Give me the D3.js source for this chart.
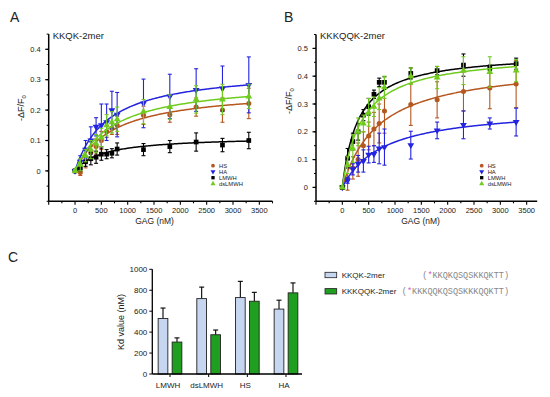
<!DOCTYPE html>
<html><head><meta charset="utf-8">
<script src="https://cdn.jsdelivr.net/npm/d3@7"></script>
<style>body{margin:0;background:#fff}svg{display:block;font-family:"Liberation Sans",Arial,sans-serif}</style>
</head><body>
<svg id="c" width="550" height="397"></svg>
<script>
// ---------- data ----------
const conc = [0,100,200,300,400,500,600,700,800,1300,1800,2300,2800,3300];
const gagNames = ["HS","HA","LMWH","dsLMWH"];

// Panel A (KKQK-2mer)
const A_HS      = [0,-0.005,0.03,0.06,0.08,0.10,0.13,0.14,0.15,0.183,0.185,0.21,0.20,0.222];
const A_HS_err  = [0.005,0.01,0.02,0.02,0.025,0.03,0.02,0.02,0.03,0.03,0.025,0.03,0.04,0.05];
const A_HA      = [0,0.03,0.07,0.10,0.145,0.15,0.16,0.20,0.185,0.222,0.245,0.266,0.271,0.283];
const A_HA_err  = [0.005,0.02,0.03,0.045,0.03,0.07,0.06,0.062,0.073,0.08,0.073,0.07,0.074,0.092];
const A_LMWH    = [0,0.01,0.03,0.04,0.045,0.055,0.055,0.058,0.072,0.07,0.08,0.095,0.085,0.10];
const A_LMWH_err= [0.005,0.01,0.015,0.02,0.02,0.02,0.015,0.015,0.02,0.02,0.02,0.03,0.022,0.027];
const A_DS      = [0,0.02,0.05,0.07,0.09,0.11,0.15,0.16,0.17,0.195,0.21,0.235,0.235,0.245];
const A_DS_err  = [0.005,0.02,0.02,0.03,0.03,0.03,0.035,0.035,0.04,0.04,0.04,0.045,0.05,0.04];
const A_Bmax    = [0.271,0.336,0.114,0.298]; // HS, HA, LMWH, dsLMWH

// Panel B (KKKQQK-2mer)
const B_HS      = [0,0.03,0.07,0.10,0.15,0.185,0.21,0.23,0.275,0.298,0.315,0.345,0.358,0.372];
const B_HS_err  = [0.005,0.04,0.04,0.06,0.05,0.05,0.06,0.07,0.08,0.075,0.065,0.07,0.075,0.085];
const B_HA      = [0,0.025,0.065,0.085,0.095,0.118,0.12,0.14,0.145,0.152,0.205,0.225,0.23,0.235];
const B_HA_err  = [0.005,0.01,0.02,0.03,0.04,0.03,0.03,0.055,0.065,0.05,0.03,0.05,0.02,0.05];
const B_LMWH    = [0,0.105,0.165,0.20,0.26,0.29,0.335,0.378,0.378,0.41,0.42,0.44,0.43,0.445];
const B_LMWH_err= [0.005,0.035,0.03,0.03,0.02,0.03,0.015,0.015,0.02,0.02,0.015,0.04,0.01,0.02];
const B_DS      = [0,0.08,0.14,0.20,0.23,0.27,0.29,0.32,0.36,0.40,0.395,0.42,0.415,0.42];
const B_DS_err  = [0.005,0.03,0.05,0.05,0.03,0.05,0.035,0.04,0.04,0.03,0.04,0.05,0.055,0.04];
const B_Bmax    = [0.45,0.29,0.486,0.484];

// Panel C (Kd values, nM)
const kdCats = ["LMWH","dsLMWH","HS","HA"];
const kd_KKQK      = [530,720,730,620];
const kd_KKQK_err  = [100,110,155,85];
const kd_KKKQQK    = [305,375,695,775];
const kd_KKKQQK_err= [40,45,85,95];
const kdSeriesNames = ["KKQK-2mer","KKKQQK-2mer"];
const kdSeq = ["KKQKQSQSKKQKTT","KKKQQKQSQSKKKQQKTT"];

const xTicks = [0,500,1000,1500,2000,2500,3000,3500];

// ---------- styles ----------
const colors = {HS:"#b5571f", HA:"#2323e0", LMWH:"#000000", dsLMWH:"#6fcc1e"};
const symbols = {HS:d3.symbolCircle, HA:d3.symbolTriangle, LMWH:d3.symbolSquare, dsLMWH:d3.symbolTriangle};
const svg = d3.select("#c");

function kdFor(panel, name){
  const i = kdCats.indexOf(name);
  return panel==="A" ? kd_KKQK[i] : kd_KKKQQK[i];
}

function drawPanel(opt){
  const g = svg.append("g");
  const x = d3.scaleLinear().domain(opt.xDom).range(opt.xRange);
  const y = d3.scaleLinear().domain(opt.yDom).range(opt.yRange);
  const yMajor = d3.range(0, opt.yDom[1]+1e-9, 0.1).map(v=>+v.toFixed(2));
  const yMinor = d3.range(opt.yDom[0], opt.yDom[1]+1e-9, 0.05).map(v=>+v.toFixed(3));
  const yAx = g.append("g").attr("transform",`translate(${opt.xRange[0]},0)`);
  yAx.append("line").attr("y1",opt.yRange[0]).attr("y2",opt.yRange[1]).attr("stroke","#000").attr("stroke-width",1.5);
  yAx.selectAll(".mn").data(yMinor).join("line").attr("x1",-2).attr("x2",0).attr("y1",d=>y(d)).attr("y2",d=>y(d)).attr("stroke","#000").attr("stroke-width",1);
  yAx.selectAll(".mj").data(yMajor).join("line").attr("x1",-3.5).attr("x2",0).attr("y1",d=>y(d)).attr("y2",d=>y(d)).attr("stroke","#000").attr("stroke-width",1.2);
  yAx.selectAll("text").data(yMajor).join("text").attr("x",-8).attr("y",d=>y(d)).attr("dy","0.35em")
     .attr("text-anchor","end").attr("font-size",7.5).attr("fill","#222").text(d=>d===0?"0":d3.format(".1f")(d));

  const xMinor = d3.range(opt.xDom[0], opt.xDom[1]+1, 250);
  const xAx = g.append("g").attr("transform",`translate(0,${opt.yRange[0]})`);
  xAx.append("line").attr("x1",opt.xRange[0]).attr("x2",opt.xRange[1]).attr("stroke","#000").attr("stroke-width",1.5);
  xAx.selectAll(".mn").data(xMinor).join("line").attr("x1",d=>x(d)).attr("x2",d=>x(d)).attr("y1",0).attr("y2",d=>d%500===0?3.5:2).attr("stroke","#000").attr("stroke-width",1.1);
  xAx.selectAll("text").data(xTicks).join("text").attr("x",d=>x(d)).attr("y",11.5).attr("text-anchor","middle")
     .attr("font-size",7.5).attr("fill","#222").text(d=>d);

  svg.append("text").attr("x",(opt.xRange[0]+opt.xRange[1])/2-6).attr("y",224).attr("text-anchor","middle").attr("font-size",8.5).attr("fill","#222").text("GAG (nM)");
  const yl = svg.append("text").attr("transform",`translate(${opt.yLabelX},${opt.yLabelY}) rotate(-90)`).attr("text-anchor","middle").attr("font-size",9).attr("fill","#222");
  yl.append("tspan").text("-ΔF/F");
  yl.append("tspan").attr("font-size",6).attr("dy",2).text("0");
  svg.append("text").attr("x",opt.xRange[0]+4).attr("y",39).attr("font-size",9.5).attr("fill","#222").text(opt.title);
  svg.append("text").attr("x",opt.letterX).attr("y",22).attr("font-size",14).attr("fill","#222").text(opt.letter);

  opt.series.forEach((s,si)=>{
    const col = colors[s.name];
    const kd = kdFor(opt.panel, s.name);
    const bmax = opt.bmax[si];
    const fx = d3.range(0, 3301, 25);
    const line = d3.line().x(d=>x(d)).y(d=>y(bmax*d/(kd+d))).curve(d3.curveMonotoneX);
    g.append("path").datum(fx).attr("d",line).attr("fill","none").attr("stroke",col).attr("stroke-width",1.5);
    const pts = conc.map((c,i)=>({c, v:s.vals[i], e:s.err[i]}));
    const eb = g.append("g").attr("stroke",col).attr("stroke-width",1.1);
    eb.selectAll(".v").data(pts).join("line").attr("x1",d=>x(d.c)).attr("x2",d=>x(d.c)).attr("y1",d=>y(d.v-d.e)).attr("y2",d=>y(d.v+d.e));
    eb.selectAll(".t").data(pts).join("line").attr("x1",d=>x(d.c)-2).attr("x2",d=>x(d.c)+2).attr("y1",d=>y(d.v+d.e)).attr("y2",d=>y(d.v+d.e));
    eb.selectAll(".b").data(pts).join("line").attr("x1",d=>x(d.c)-2).attr("x2",d=>x(d.c)+2).attr("y1",d=>y(d.v-d.e)).attr("y2",d=>y(d.v-d.e));
    const sym = d3.symbol().type(symbols[s.name]).size(s.name==="LMWH"?22:20);
    g.append("g").selectAll("path").data(pts).join("path")
      .attr("transform",d=>`translate(${x(d.c)},${y(d.v)})${s.name==="HA"?" rotate(180)":""}`)
      .attr("d",sym).attr("fill",col);
  });

  const lg = svg.append("g");
  gagNames.forEach((n,i)=>{
    const yy = opt.legY + i*6;
    lg.append("path").attr("transform",`translate(${opt.legX},${yy})${n==="HA"?" rotate(180)":""}`)
      .attr("d",d3.symbol().type(symbols[n]).size(11)).attr("fill",colors[n]);
    lg.append("text").attr("x",opt.legX+6).attr("y",yy).attr("dy","0.35em").attr("font-size",5.8).attr("fill","#222").text(n);
  });
}

drawPanel({panel:"A", letter:"A", letterX:10, title:"KKQK-2mer",
  xDom:[-500,3750], xRange:[48.7,272.5], yDom:[-0.1,0.45], yRange:[201.3,34.1],
  yLabelX:24, yLabelY:108, legX:213, legY:165.7, bmax:A_Bmax,
  series:[{name:"HS",vals:A_HS,err:A_HS_err},{name:"HA",vals:A_HA,err:A_HA_err},
          {name:"LMWH",vals:A_LMWH,err:A_LMWH_err},{name:"dsLMWH",vals:A_DS,err:A_DS_err}]});

drawPanel({panel:"B", letter:"B", letterX:284, title:"KKKQQK-2mer",
  xDom:[-500,3700], xRange:[316,537.2], yDom:[-0.05,0.55], yRange:[201.3,34.5],
  yLabelX:292, yLabelY:101, legX:481.7, legY:165.7, bmax:B_Bmax,
  series:[{name:"HS",vals:B_HS,err:B_HS_err},{name:"HA",vals:B_HA,err:B_HA_err},
          {name:"LMWH",vals:B_LMWH,err:B_LMWH_err},{name:"dsLMWH",vals:B_DS,err:B_DS_err}]});

// ---------- Panel C ----------
(function(){
  const g = svg.append("g");
  const x = d3.scalePoint().domain(kdCats).range([170,286]);
  const y = d3.scaleLinear().domain([0,1000]).range([374,269.3]);
  const bw = 9.7, off = 7;
  const barCols = ["#c6d5f0","#1f9e1f"];
  const vals = [kd_KKQK, kd_KKKQQK], errs = [kd_KKQK_err, kd_KKKQQK_err];
  vals.forEach((arr,si)=>{
    const d = kdCats.map((c,i)=>({c, v:arr[i], e:errs[si][i]}));
    const cx = c => x(c) + (si===0?-off:off);
    g.append("g").attr("stroke","#000").attr("stroke-width",1.1).selectAll("line.e").data(d).join("line")
      .attr("x1",q=>cx(q.c)).attr("x2",q=>cx(q.c)).attr("y1",q=>y(q.v)).attr("y2",q=>y(q.v+q.e));
    g.append("g").attr("stroke","#000").attr("stroke-width",1.1).selectAll("line.c").data(d).join("line")
      .attr("x1",q=>cx(q.c)-2.5).attr("x2",q=>cx(q.c)+2.5).attr("y1",q=>y(q.v+q.e)).attr("y2",q=>y(q.v+q.e));
    g.append("g").selectAll("rect").data(d).join("rect")
      .attr("x",q=>cx(q.c)-bw/2).attr("width",bw).attr("y",q=>y(q.v)).attr("height",q=>y(0)-y(q.v))
      .attr("fill",barCols[si]).attr("stroke","#222").attr("stroke-width",0.9);
  });
  const yAx = g.append("g").attr("transform","translate(152.3,0)");
  yAx.append("line").attr("y1",374).attr("y2",269.3).attr("stroke","#000").attr("stroke-width",1.3);
  const yt = d3.range(0,1001,200);
  yAx.selectAll(".t").data(yt).join("line").attr("x1",-3).attr("x2",0).attr("y1",d=>y(d)).attr("y2",d=>y(d)).attr("stroke","#000");
  yAx.selectAll("text").data(yt).join("text").attr("x",-5).attr("y",d=>y(d)).attr("dy","0.35em").attr("text-anchor","end").attr("font-size",8).attr("fill","#222").text(d=>d);
  const xAx = g.append("g").attr("transform","translate(0,374)");
  xAx.append("line").attr("x1",152.3).attr("x2",302).attr("stroke","#000").attr("stroke-width",1.3);
  xAx.selectAll(".t").data(kdCats).join("line").attr("x1",d=>x(d)).attr("x2",d=>x(d)).attr("y1",0).attr("y2",3).attr("stroke","#000");
  xAx.selectAll("text").data(kdCats).join("text").attr("x",d=>x(d)-2).attr("y",13.5).attr("text-anchor","middle").attr("font-size",8).attr("fill","#222").text(d=>d);
  svg.append("text").attr("transform","translate(124,322) rotate(-90)").attr("text-anchor","middle").attr("font-size",9).attr("fill","#222").text("Kd value (nM)");
  svg.append("text").attr("x",8).attr("y",262).attr("font-size",14).attr("fill","#222").text("C");
  kdSeriesNames.forEach((n,i)=>{
    const yy = 275 + i*16.3;
    svg.append("rect").attr("x",325).attr("y",yy-2.7).attr("width",11.7).attr("height",5.4).attr("fill",barCols[i]).attr("stroke","#222").attr("stroke-width",0.8);
    svg.append("text").attr("x",341.7).attr("y",yy).attr("dy","0.35em").attr("font-size",8).attr("fill","#222").text(n);
    const t = svg.append("text").attr("x",509).attr("y",yy).attr("dy","0.35em").attr("text-anchor","end")
      .attr("font-family","'Liberation Mono','DejaVu Sans Mono',monospace").attr("font-size",8.5).attr("fill","#888");
    t.append("tspan").text("(");
    t.append("tspan").attr("fill","#d060d0").text("*");
    t.append("tspan").text(kdSeq[i]+")");
  });
})();
</script>
</body></html>
